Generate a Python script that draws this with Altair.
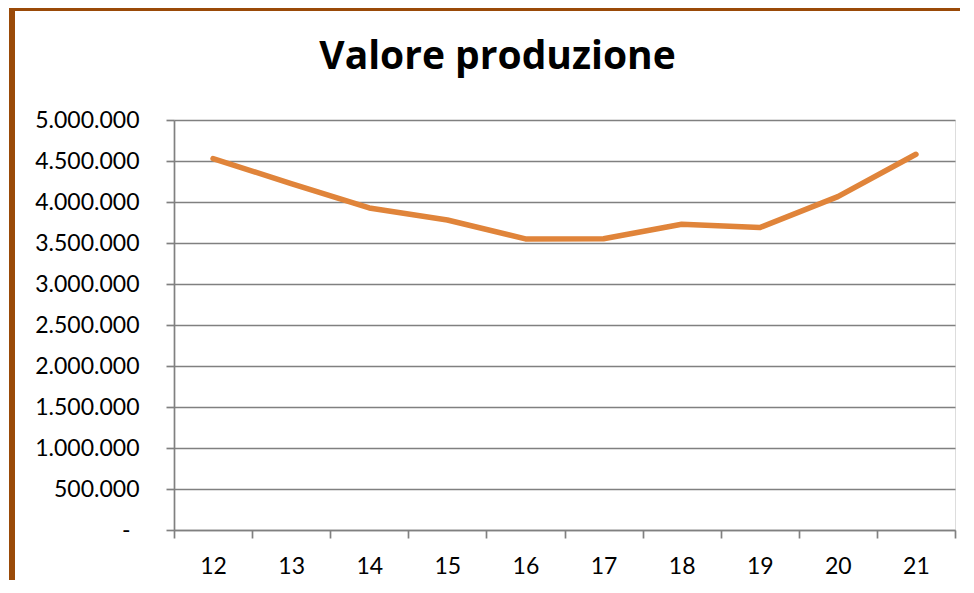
import altair as alt
import pandas as pd

# Data
anni = ["12", "13", "14", "15", "16", "17", "18", "19", "20", "21"]
valori = [4530000, 4225000, 3927000, 3780000, 3550000, 3552000, 3728000, 3688000, 4065000, 4582000]
y_ticks = [0, 500000, 1000000, 1500000, 2000000, 2500000, 3000000, 3500000, 4000000, 4500000, 5000000]
titolo = "Valore produzione"

df = pd.DataFrame({"anno": anni, "valore": valori})

GRAY = "#808080"
FONT = "Lato"

line = alt.Chart(df).mark_line(
    color="#E0843A", strokeWidth=5.5, strokeCap="round", strokeJoin="round"
).encode(
    x=alt.X(
        "anno:O",
        sort=None,
        scale=alt.Scale(type="band", paddingInner=0, paddingOuter=0),
        axis=alt.Axis(
            title=None,
            labelAngle=0,
            tickBand="extent",
            tickSize=8,
            tickColor=GRAY,
            tickWidth=1.7,
            domainColor=GRAY,
            domainWidth=1.7,
            labelFont=FONT,
            labelFontSize=23,
            labelColor="#000000",
            labelPadding=17,
            grid=False,
        ),
    ),
    y=alt.Y(
        "valore:Q",
        scale=alt.Scale(domain=[0, 5000000], nice=False),
        axis=alt.Axis(
            title=None,
            values=y_ticks,
            labelExpr="datum.value == 0 ? '-' : replace(replace(format(datum.value, ','), ',', '.'), ',', '.')",
            tickSize=8,
            tickColor=GRAY,
            tickWidth=1.7,
            domainColor=GRAY,
            domainWidth=1.7,
            gridColor=GRAY,
            gridWidth=1.7,
            labelFont=FONT,
            labelFontSize=23,
            labelColor="#000000",
            labelPadding={"condition": {"test": "datum.value == 0", "value": 36}, "value": 27},
        ),
    ),
)

frame_data = alt.Data(values=[{}])
border_left = alt.Chart(frame_data).mark_rule(color="#9A4A08", strokeWidth=6).encode(
    x=alt.value(-162), y=alt.value(-115), y2=alt.value(480)
)
border_top = alt.Chart(frame_data).mark_rule(color="#9A4A08", strokeWidth=6).encode(
    x=alt.value(-165), x2=alt.value(800), y=alt.value(-112)
)
title_text = alt.Chart(frame_data).mark_text(
    text=titolo,
    font="Open Sans",
    fontSize=39,
    fontWeight="bold",
    color="#000000",
    align="center",
    baseline="alphabetic",
).encode(x=alt.value(497.5 - 174), y=alt.value(69 - 120))

chart = alt.layer(border_left, border_top, title_text, line).properties(
    width=781,
    height=410,
    autosize=alt.AutoSizeParams(type="none"),
    padding={"left": 166, "top": 112, "right": 5, "bottom": 50},
).configure_view(stroke=None).configure(background="white")

chart.save("out.html", embed_options={"renderer": "svg", "actions": False})
